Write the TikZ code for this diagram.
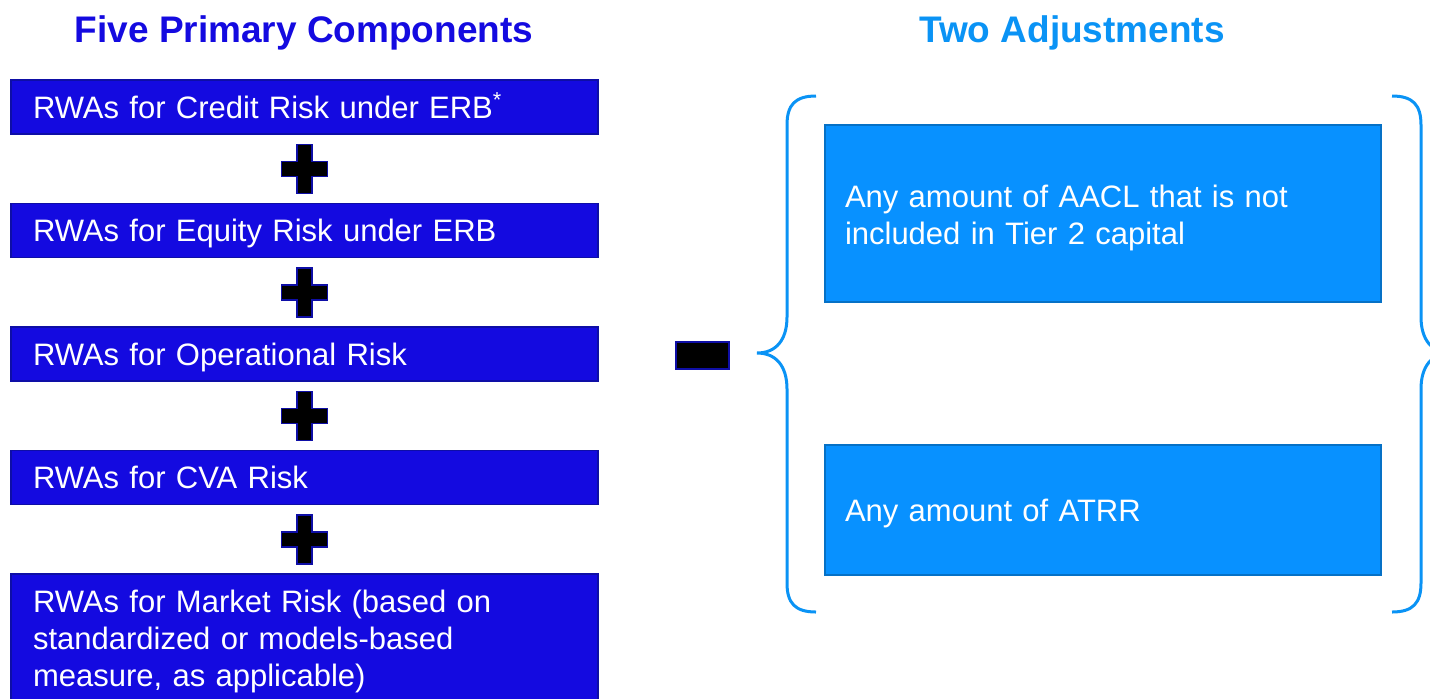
\documentclass[tikz,border=0pt]{standalone}
\usepackage{fontspec}
\setmainfont{Liberation Sans}
\usepackage{tikz}
\usetikzlibrary{positioning,calc}
\usepackage{xcolor}
\definecolor{rwafill}{HTML}{140AE0}
\definecolor{rwaedge}{HTML}{0E0EA6}
\definecolor{adjfill}{HTML}{0891FF}
\definecolor{adjedge}{HTML}{0671C6}
\definecolor{adjline}{HTML}{0A93F5}

\begin{document}
\begin{tikzpicture}[
  x=0.5pt, y=-0.5pt,
  node distance=34pt,
  every node/.style={font=\fontsize{15.5}{18.5}\selectfont},
  header/.style={font=\fontsize{18.5}{22}\selectfont\bfseries, anchor=base},
  rwabox/.style={draw=rwaedge, line width=0.75pt, fill=rwafill, text=white, align=left, text width=271.5pt, inner xsep=11pt, minimum height=27pt},
  oneline/.style={text height=11.1pt, text depth=0pt},
  adjbox/.style={draw=adjedge, line width=0.75pt, fill=adjfill, text=white, align=left, text width=258pt, inner xsep=10pt},
  opmark/.style={draw=rwaedge, line width=0.75pt, fill=black},
  brace/.style={draw=adjline, line width=1.5pt},
  plusmark/.pic={\path[opmark] (-7.5,-24.5) -- (7.5,-24.5) -- (7.5,-7.5) -- (23,-7.5) -- (23,7.5) -- (7.5,7.5) -- (7.5,24.5) -- (-7.5,24.5) -- (-7.5,7.5) -- (-23,7.5) -- (-23,-7.5) -- (-7.5,-7.5) -- cycle;},
]
  \useasboundingbox (0,0) rectangle (1430,698);

  % Headers
  \node[header, text=rwafill] (hfive) at (304,42) {Five Primary Components};
  \node[header, text=adjline] (htwo) at (1072,42) {Two Adjustments};

  % Primary components
  \node[rwabox, oneline] (r1) at (304.5,107) {RWAs for Credit Risk under ERB\textsuperscript{*}};
  \node[rwabox, oneline, below=of r1] (r2) {RWAs for Equity Risk under ERB};
  \node[rwabox, oneline, below=of r2] (r3) {RWAs for Operational Risk};
  \node[rwabox, oneline, below=of r3] (r4) {RWAs for CVA Risk};
  \node[rwabox, below=of r4, inner ysep=8.2pt, minimum height=0pt] (r5) {RWAs for Market Risk (based on\\standardized or models-based\\measure, as applicable)};

  \foreach \a/\b in {r1/r2,r2/r3,r3/r4,r4/r5}
    \pic at ($(\a.south)!0.5!(\b.north)$) {plusmark};

  % Minus
  \node[opmark, minimum width=26.5pt, minimum height=13.5pt, inner sep=0pt] (minus) at (702.5,355.5) {};

  % Adjustments
  \node[adjbox, text height=11.1pt, text depth=17.6pt, minimum height=88.5pt] (aacl) at (1103,213.5) {Any amount of AACL that is not\\included in Tier 2 capital};
  \node[adjbox, oneline, minimum height=65pt] (atrr) at (1103,510) {Any amount of ATRR};

  \draw[brace] (816,96) .. controls (795,96) and (787,105) .. (787,125) -- (787,317) .. controls (787,340) and (776,353) .. (757,353) .. controls (776,353) and (787,366) .. (787,389) -- (787,583) .. controls (787,603) and (795,612) .. (816,612);
  \draw[brace] (1392,96) .. controls (1413,96) and (1421,105) .. (1421,125) -- (1421,317) .. controls (1421,340) and (1432,353) .. (1451,353) .. controls (1432,353) and (1421,366) .. (1421,389) -- (1421,583) .. controls (1421,603) and (1413,612) .. (1392,612);
\end{tikzpicture}
\end{document}
